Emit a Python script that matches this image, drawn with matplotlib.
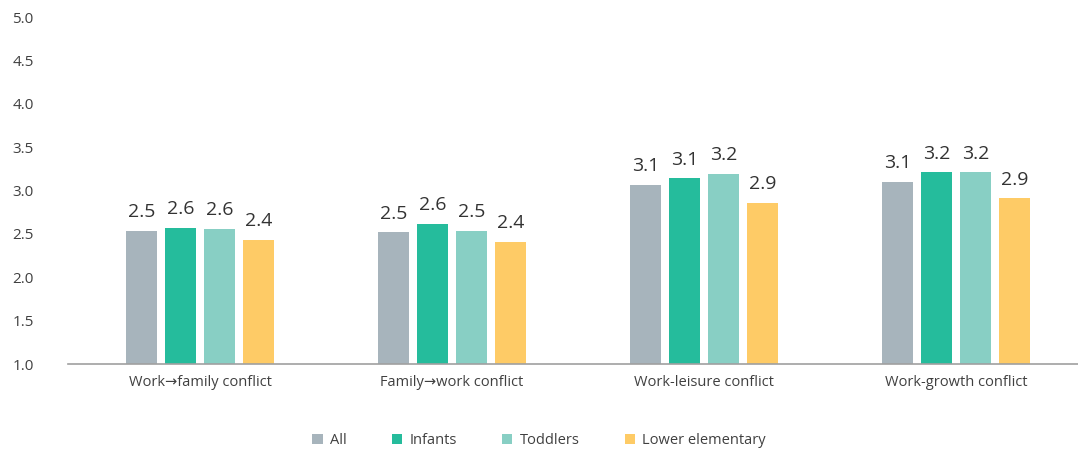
import matplotlib
matplotlib.use("Agg")
import matplotlib.pyplot as plt
import numpy as np
from matplotlib.patches import Patch

plt.rcParams['font.family'] = ['Open Sans', 'DejaVu Sans']

categories = ['Work\u2192family conflict', 'Family\u2192work conflict',
              'Work-leisure conflict', 'Work-growth conflict']
groups = ['All', 'Infants', 'Toddlers', 'Lower elementary']
all_vals = [2.54, 2.52, 3.07, 3.10]
infants_vals = [2.57, 2.62, 3.14, 3.21]
toddlers_vals = [2.56, 2.54, 3.19, 3.21]
lower_elem_vals = [2.43, 2.41, 2.86, 2.91]
colors = ['#a7b4bc', '#25bc9c', '#88cfc4', '#fecb66']

series = [all_vals, infants_vals, toddlers_vals, lower_elem_vals]

fig = plt.figure(figsize=(10.78, 4.49), dpi=100)
ax = fig.add_axes([0.063, 0.189, 0.937, 0.773])

x = np.arange(len(categories))
width = 0.123
pitch = 0.155
offsets = (np.arange(len(series)) - 1.5) * pitch

for vals, off, col in zip(series, offsets, colors):
    bars = ax.bar(x + off, np.array(vals) - 1.0, width, bottom=1.0, color=col)
    for b, v in zip(bars, vals):
        ax.annotate(f'{v:.1f}', (b.get_x() + b.get_width() / 2, v),
                    xytext=(0, 7), textcoords='offset points',
                    ha='center', va='bottom', fontsize=14, color='#333333')

ax.set_xlim(-0.524, 3.484)
ax.set_ylim(1.0, 5.0)
ax.set_yticks(np.arange(1.0, 5.01, 0.5))
ax.set_yticklabels([f'{t:.1f}' for t in np.arange(1.0, 5.01, 0.5)])
ax.set_xticks(x)
ax.set_xticklabels(categories)
ax.tick_params(axis='both', length=0, labelsize=10.5, colors='#404040')
ax.tick_params(axis='y', labelsize=11)
ax.tick_params(axis='x', pad=8)
ax.tick_params(axis='y', pad=40)
for lbl in ax.get_yticklabels():
    lbl.set_horizontalalignment('left')

for side in ['top', 'right', 'left']:
    ax.spines[side].set_visible(False)
ax.spines['bottom'].set_color('#a0a0a0')
ax.spines['bottom'].set_linewidth(1.2)

handles = [Patch(facecolor=c, edgecolor='none') for c in colors]
fig.legend(handles, groups, loc='center', bbox_to_anchor=(0.5, 0.018),
           ncol=4, frameon=False, fontsize=10.5, handlelength=0.7,
           handleheight=0.7, handletextpad=0.5, columnspacing=3.1,
           labelcolor='#404040')

fig.savefig('out.png', dpi=100)
